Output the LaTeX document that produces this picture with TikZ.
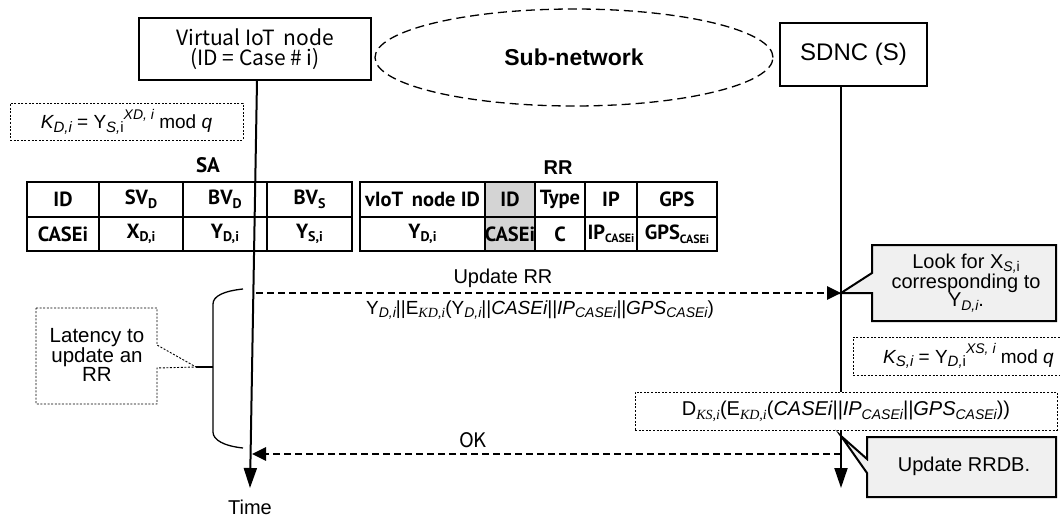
\documentclass[tikz,border=0pt]{standalone}
\usepackage{fontspec}
\setmainfont{Liberation Sans}
\newfontfamily\kr{Noto Sans CJK KR}
\newfontfamily\krb{PT Sans}
\newfontfamily\tms{Liberation Serif}
\usetikzlibrary{arrows.meta,shapes.geometric}

% sub- and superscripts set as text
\newcommand\lo[2][14]{\raisebox{-0.35ex}{\fontsize{#1}{#1}\selectfont #2}}
\newcommand\hi[2][13]{\raisebox{0.95ex}{\fontsize{#1}{#1}\selectfont #2}}
\newcommand\ksub[1]{\lo{\tms\itshape #1}}

\definecolor{calloutgray}{HTML}{F0F0F0}
\definecolor{keygray}{HTML}{D4D4D4}

\tikzset{
  box/.style={draw, line width=1.3pt, inner sep=0pt},
  dotbox/.style={draw, line width=0.9pt, dash pattern=on 2pt off 1.6pt},
  cell/.style={draw, line width=1.6pt, inner sep=0pt, font=\krb\bfseries\fontsize{20.5}{20.5}\selectfont},
  lifeline/.style={line width=2pt, -{Triangle[length=20pt,width=13pt]}},
  msg/.style={line width=2.6pt, dash pattern=on 7pt off 4pt, -{Triangle[length=14pt,width=13pt]}},
  callout/.style={draw, line width=2pt, fill=calloutgray, line join=miter},
  plain/.style={inner sep=0pt, align=center}
}

\begin{document}
\begin{tikzpicture}[x=1pt,y=-1pt]
\clip (0,0) rectangle (1060,519);
\fill[white] (0,0) rectangle (1060,519);

% participants
\node[box, minimum width=232pt, minimum height=62pt, align=center,
      font=\kr\fontsize{21}{20}\selectfont] (vnode) at (255,49)
  {Virtual IoT\, node\\(ID = Case \# i)};
\node[draw, ellipse, line width=1.3pt, dash pattern=on 9pt off 5pt,
      minimum width=398pt, minimum height=97pt, inner sep=0pt,
      font=\bfseries\fontsize{23}{23}\selectfont] (subnet) at (574,57.5) {Sub-network};
\node[box, minimum width=147pt, minimum height=63pt,
      font=\fontsize{24}{24}\selectfont] (sdnc) at (853.5,54.5) {SDNC (S)};

% key derivation on the device side
\node[dotbox, minimum width=233pt, minimum height=37pt, inner sep=0pt,
      font=\fontsize{19}{19}\selectfont] (kd) at (126.5,121.5)
  {{\itshape K}\lo[15]{\itshape D,i} = Y\lo[15]{\itshape S,\upshape i}\hi[14]{\itshape XD, i} mod {\itshape q}};

% SA table
\node[plain, font=\krb\bfseries\fontsize{21}{21}\selectfont] (salabel) at (208,165) {SA};
\node[cell, minimum width=72pt, minimum height=35pt] (sa11) at (63,199.5) {ID};
\node[cell, minimum width=84pt, minimum height=35pt] (sa12) at (141,199.5) {SV\lo[14]{D}};
\node[cell, minimum width=84pt, minimum height=35pt] (sa13) at (225,199.5) {BV\lo[14]{D}};
\node[cell, minimum width=85pt, minimum height=35pt] (sa14) at (309.5,199.5) {BV\lo[14]{S}};
\node[cell, minimum width=72pt, minimum height=34pt] (sa21) at (63,234) {CASEi};
\node[cell, minimum width=84pt, minimum height=34pt] (sa22) at (141,234) {X\lo[14]{D,i}};
\node[cell, minimum width=84pt, minimum height=34pt] (sa23) at (225,234) {Y\lo[14]{D,i}};
\node[cell, minimum width=85pt, minimum height=34pt] (sa24) at (309.5,234) {Y\lo[14]{S,i}};

% RR table
\node[plain, font=\bfseries\fontsize{20}{20}\selectfont] (rrlabel) at (558,167.5) {RR};
\node[cell, minimum width=125pt, minimum height=35pt] (rr11) at (422.5,199.5) {vIoT\, node ID};
\node[cell, fill=keygray, minimum width=50pt, minimum height=35pt] (rr12) at (510,199.5) {ID};
\node[cell, minimum width=50pt, minimum height=35pt] (rr13) at (560,199.5) {Type};
\node[cell, minimum width=52pt, minimum height=35pt] (rr14) at (611,199.5) {IP};
\node[cell, minimum width=80pt, minimum height=35pt] (rr15) at (677,199.5) {GPS};
\node[cell, minimum width=125pt, minimum height=34pt] (rr21) at (422.5,234) {Y\lo[14]{D,i}};
\node[cell, fill=keygray, minimum width=50pt, minimum height=34pt] (rr22) at (510,234) {CASEi};
\node[cell, minimum width=50pt, minimum height=34pt] (rr23) at (560,234) {C};
\node[cell, minimum width=52pt, minimum height=34pt] (rr24) at (611,234) {IP\lo[12]{CASEi}};
\node[cell, minimum width=80pt, minimum height=34pt] (rr25) at (677,234) {GPS\lo[12]{CASEi}};

% lifelines
\coordinate (vend) at (250,488);
\coordinate (send) at (841,488);
\draw[lifeline] ([xshift=2pt]vnode.south) -- (vend);
\draw[lifeline] (sdnc.south -| send) -- (send);
\node[plain, font=\fontsize{20}{20}\selectfont] (time) at (250,507) {Time};

% Update RR message
\coordinate (ustart) at (256,293);
\coordinate (uend) at (841,293);
\draw[msg] (ustart) -- (uend);
\node[plain, font=\fontsize{20}{20}\selectfont] (ulabel) at (503,278.5) {Update RR};
\node[plain, font=\fontsize{19}{19}\selectfont] (uformula) at (540,310)
  {Y\lo{\itshape D,i}||E\ksub{KD,i}(Y\lo{\itshape D,i}||{\itshape CASEi||IP\lo{CASEi}||GPS\lo{CASEi}})};

% server side: look-up callout
\draw[callout] (872,245) -- (1056,245) -- (1056,321) -- (872,321) -- (872,293)
  -- (uend) -- (872,273) -- cycle;
\node[plain, font=\fontsize{20}{18}\selectfont] (lookfor) at (966,283)
  {Look for X\lo{\itshape S,\upshape i}\\corresponding to\\Y\lo{\itshape D,i}.};

% server-side key
\node[dotbox, minimum width=230pt, minimum height=38pt, inner sep=0pt, anchor=west,
      font=\fontsize{19}{19}\selectfont] (ks) at (853,356)
  {{\itshape K}\lo[15]{\itshape S,i} = Y\lo[15]{\itshape D,\upshape i}\hi[14]{\itshape XS, i} mod {\itshape q}};

% decryption
\node[dotbox, fill=white, minimum width=422pt, minimum height=38pt, inner sep=0pt,
      font=\fontsize{20}{20}\selectfont] (dec) at (846,411)
  {D\ksub{KS,i}(E\ksub{KD,i}({\itshape CASEi||IP\lo{CASEi}||GPS\lo{CASEi}}))};

% update database callout
\coordinate (rrdbtip) at (841,436);
\draw[callout] (867,437) -- (1056,437) -- (1056,497) -- (867,497) -- (867,473)
  -- (rrdbtip) -- (867,459) -- cycle;
\node[plain, font=\fontsize{20}{20}\selectfont] (rrdb) at (964,466) {Update RRDB.};

% OK message
\coordinate (okstart) at (841,454);
\coordinate (okend) at (252,454);
\draw[msg] (okstart) -- (okend);
\node[plain, font=\kr\fontsize{20}{20}\selectfont] (ok) at (473,440) {OK};

% latency bracket and its note
\coordinate (brtick) at (196,367);
\draw[line width=1.3pt] (243,289) .. controls (224,291) and (213,296) .. (213,304)
  -- (213,432) .. controls (213,440) and (224,446) .. (243,448);
\draw[line width=1.3pt] (213,367) -- (brtick);
\draw[dotbox] (36,308) -- (157,308) -- (157,345) -- (brtick) -- (157,368)
  -- (157,404) -- (36,404) -- cycle;
\node[plain, font=\fontsize{20.5}{19}\selectfont] (latency) at (97,355)
  {Latency to\\update an\\RR};
\end{tikzpicture}
\end{document}
